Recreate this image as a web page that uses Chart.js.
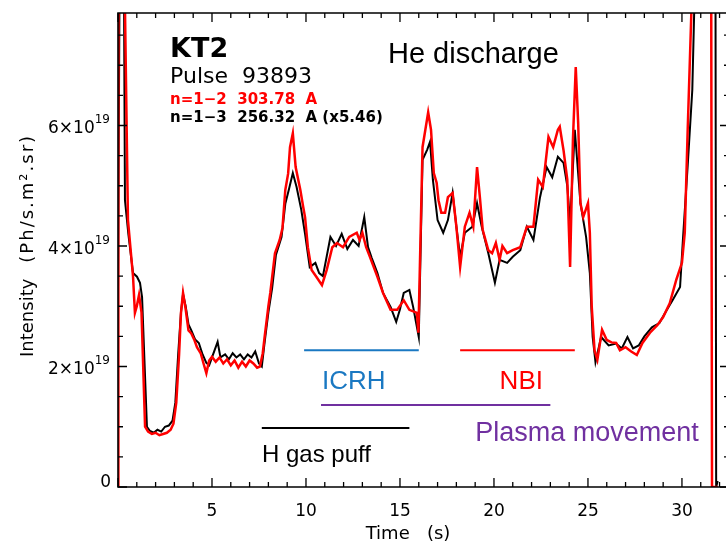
<!DOCTYPE html>
<html>
<head>
<meta charset="utf-8">
<script src="https://cdn.jsdelivr.net/npm/chart.js@4.4.1/dist/chart.umd.min.js"></script>
<style>
  html, body { margin: 0; padding: 0; background: #fff; }
  canvas { display: block; }
</style>
</head>
<body>
<canvas id="kt2" width="726" height="545"></canvas>
<script>
// tempo (s) e intensidade (x1e19 Ph/s.m2.sr)
const redTime = [0, 0.02, 0.3, 0.53, 0.8, 0.9, 1.0, 1.12, 1.25, 1.44, 1.6, 1.8, 2.0, 2.2, 2.4, 2.6, 2.8, 2.95, 3.1, 3.25, 3.35, 3.46,
  3.6, 3.75, 3.9, 4.05, 4.2, 4.4, 4.55, 4.7, 4.85, 5.0, 5.2, 5.4, 5.6, 5.8, 6.0, 6.2, 6.4, 6.6, 6.8, 7.0, 7.2, 7.4, 7.55, 7.7, 7.8,
  8.0, 8.1, 8.35, 8.6, 8.75, 8.9, 9.05, 9.15, 9.3, 9.45, 9.7, 9.85, 9.95, 10.1, 10.3, 10.55, 10.85, 11.1, 11.4, 11.65, 11.97, 12.3,
  12.7, 12.85, 13.0, 13.2, 13.4, 13.8, 14.1, 14.5, 14.85, 15.2, 15.5, 15.9, 15.98, 16.2, 16.35, 16.5, 16.65, 16.8, 16.95, 17.05,
  17.2, 17.4, 17.55, 17.8, 18.0, 18.2, 18.45, 18.7, 18.9, 19.1, 19.25, 19.4, 19.7, 19.9, 20.1, 20.3, 20.45, 20.7, 21.0, 21.4,
  21.75, 22.1, 22.35, 22.6, 22.9, 23.15, 23.4, 23.5, 23.7, 23.9, 24.05, 24.2, 24.35, 24.48, 24.6, 24.75, 25.0, 25.1, 25.2, 25.35,
  25.5, 25.75, 26.0, 26.25, 26.5, 26.7, 27.0, 27.3, 27.6, 27.9, 28.3, 28.7, 29.0, 29.35, 29.7, 30.0, 30.15, 30.3, 30.5, 30.6,
  31.55, 31.6, 31.9];
const redValue = [0, 9.5, 9.5, 4.43, 3.49, 2.89, 3.0, 3.19, 2.9, 1.0, 0.92, 0.88, 0.9, 0.86, 0.88, 0.9, 0.95, 1.05, 1.4, 2.2, 2.89, 3.22,
  2.95, 2.6, 2.55, 2.45, 2.32, 2.22, 2.05, 1.89, 2.1, 2.16, 2.08, 2.15, 2.05, 2.12, 2.02, 2.1, 1.98, 2.08, 2.0, 2.1, 2.05, 1.98, 2.0, 2.22, 2.49,
  3.0, 3.22, 3.88, 4.1, 4.3, 4.93, 5.2, 5.64, 5.87, 5.31, 4.93, 4.65, 4.48, 3.98, 3.6, 3.49, 3.35, 3.6, 3.98, 4.05, 3.98, 4.15,
  4.22, 4.1, 4.22, 3.98, 3.82, 3.49, 3.22, 2.94, 2.94, 3.1, 2.94, 2.89, 2.56, 5.64, 5.93, 6.22, 5.93, 5.21, 5.05, 4.76,
  4.55, 4.55, 4.81, 4.88, 4.32, 3.65, 4.32, 4.55, 4.32, 5.31, 4.81, 4.27, 3.93, 3.88, 4.05, 3.77, 4.0, 3.88, 3.93, 3.98,
  4.32, 4.32, 5.1, 4.98, 5.81, 5.64, 5.93, 5.98, 5.59, 5.1, 3.65, 5.76, 6.97, 6.04, 4.71, 4.48, 4.71, 4.22, 3.0, 2.27,
  2.11, 2.61, 2.44, 2.4, 2.39, 2.27, 2.32, 2.25, 2.19, 2.39, 2.56, 2.69, 2.82, 3.05, 3.44, 3.72, 4.22, 5.87, 7.87, 9.5,
  9.5, 0, 0];

const blackTime = [0, 0.1, 0.3, 0.37, 0.55, 0.8, 1.01, 1.17, 1.28, 1.54, 1.7, 1.9, 2.1, 2.3, 2.5, 2.7, 2.9, 3.05, 3.2, 3.35, 3.46,
  3.6, 3.75, 3.9, 4.1, 4.3, 4.5, 4.7, 4.85, 5.0, 5.3, 5.45, 5.7, 5.9, 6.1, 6.3, 6.5, 6.7, 6.9, 7.1, 7.3, 7.5, 7.65, 7.8,
  8.0, 8.2, 8.4, 8.7, 8.9, 9.1, 9.3, 9.5, 9.75, 9.95, 10.2, 10.5, 10.7, 10.9, 11.3, 11.6, 11.9, 12.2, 12.5, 12.8, 13.1, 13.3,
  13.5, 13.8, 14.1, 14.5, 14.8, 15.0, 15.2, 15.5, 15.7, 16.0, 16.2, 16.45, 16.6, 16.75, 17.0, 17.3, 17.55, 17.8, 18.0, 18.2,
  18.45, 18.85, 19.1, 19.35, 19.7, 20.05, 20.3, 20.7, 21.0, 21.4, 21.75, 22.1, 22.45, 22.8, 23.1, 23.4, 23.7, 23.9, 24.05,
  24.3, 24.6, 24.9, 25.1, 25.25, 25.4, 25.7, 26.1, 26.5, 26.8, 27.1, 27.4, 27.7, 28.0, 28.4, 28.8, 29.2, 29.5, 29.9, 30.05,
  30.3, 30.55, 30.65, 30.75, 31.78, 31.82, 31.9];
const blackValue = [3.2, 9.5, 9.5, 4.76, 4.2, 3.55, 3.49, 3.39, 3.15, 1.0, 0.93, 0.9, 0.95, 0.92, 1.0, 1.02, 1.1, 1.4, 2.2, 2.9, 3.2,
  3.0, 2.7, 2.6, 2.45, 2.39, 2.2, 2.06, 2.02, 2.15, 2.41, 2.15, 2.2, 2.12, 2.22, 2.15, 2.2, 2.12, 2.2, 2.15, 2.25, 2.05, 2.0, 2.4,
  2.9, 3.3, 3.85, 4.15, 4.7, 4.95, 5.21, 4.98, 4.6, 4.2, 3.65, 3.72, 3.55, 3.5, 4.15, 4.0, 4.2, 3.95, 4.1, 4.0, 4.48, 3.98,
  3.8, 3.55, 3.22, 2.99, 2.74, 2.95, 3.22, 3.27, 2.99, 2.49, 5.43, 5.6, 5.73, 5.1, 4.43, 4.22, 4.43, 4.88, 4.32, 3.82,
  4.22, 4.32, 4.71, 4.32, 3.88, 3.39, 3.77, 3.72, 3.82, 3.93, 4.32, 4.1, 4.81, 5.31, 5.14, 5.48, 5.38, 5.0, 4.38,
  5.93, 4.71, 4.15, 3.55, 2.49, 2.07, 2.49, 2.35, 2.38, 2.3, 2.49, 2.3, 2.35, 2.5, 2.65, 2.72, 2.94, 3.1, 3.32, 4.1,
  5.31, 6.59, 7.87, 9.5, 9.5, 0.0, 0.1];

// barras de eventos (início, fim em s; nível x1e19)
const eventLabels = ["ICRH", "NBI", "Plasma movement", "H gas puff"];
const eventStart = [9.9, 18.2, 10.8, 7.65];
const eventEnd = [16.0, 24.3, 23.0, 15.5];
const eventLevel = [2.27, 2.27, 1.36, 0.98];
const eventColors = ["#1a78c2", "#ff0000", "#7030a0", "#000000"];

const yTicks = [0, 2, 4, 6];
const xTicks = [5, 10, 15, 20, 25, 30];

const toPoints = (t, v) => t.map((x, i) => ({ x: x, y: v[i] }));

const datasets = [
  { data: toPoints(redTime, redValue), borderColor: "#ff0000", borderWidth: 2.5 },
  { data: toPoints(blackTime, blackValue), borderColor: "#000000", borderWidth: 2 }
];
eventLabels.forEach((lab, i) => {
  datasets.push({
    data: [{ x: eventStart[i], y: eventLevel[i] }, { x: eventEnd[i], y: eventLevel[i] }],
    borderColor: eventColors[i], borderWidth: 2
  });
});

const tickFont = "17px 'DejaVu Sans'";

// moldura, ticks para dentro, rótulos e textos
const framePlugin = {
  id: "frame",
  afterDraw(chart) {
    const ctx = chart.ctx;
    const a = chart.chartArea;
    const xs = chart.scales.x, ys = chart.scales.y;
    const rightEdge = a.right + 4; // borda direita fica fora da imagem
    ctx.save();
    ctx.strokeStyle = "#000";
    ctx.lineWidth = 1.6;
    ctx.beginPath();
    ctx.moveTo(rightEdge, a.top); ctx.lineTo(a.left, a.top);
    ctx.lineTo(a.left, a.bottom); ctx.lineTo(rightEdge, a.bottom);
    ctx.stroke();

    ctx.lineWidth = 1.3;
    ctx.beginPath();
    for (let t = 0; t <= xs.max; t += 1) {
      const px = xs.getPixelForValue(t);
      const len = t % 5 === 0 ? 9 : 5;
      ctx.moveTo(px, a.bottom); ctx.lineTo(px, a.bottom - len);
      ctx.moveTo(px, a.top); ctx.lineTo(px, a.top + len);
    }
    for (let v = 0; v <= ys.max; v += 0.5) {
      const py = ys.getPixelForValue(v);
      const len = v % 2 === 0 ? 9 : 5;
      ctx.moveTo(a.left, py); ctx.lineTo(a.left + len, py);
      ctx.moveTo(rightEdge, py); ctx.lineTo(rightEdge - len, py);
    }
    ctx.stroke();

    ctx.fillStyle = "#000";
    ctx.font = tickFont;
    ctx.textAlign = "center";
    ctx.textBaseline = "alphabetic";
    xTicks.forEach(t => ctx.fillText(String(t), xs.getPixelForValue(t), 516));

    ctx.textAlign = "right";
    yTicks.forEach(v => {
      const py = ys.getPixelForValue(v);
      if (v === 0) {
        ctx.font = tickFont;
        ctx.fillText("0", 111, py);
        return;
      }
      ctx.font = "12px 'DejaVu Sans'";
      const supW = ctx.measureText("19").width;
      ctx.fillText("19", 110, py - 2);
      ctx.font = tickFont;
      ctx.fillText(v + "\u00d710", 110 - supW, py + 8);
    });

    ctx.font = "18px 'DejaVu Sans'";
    ctx.textAlign = "center";
    ctx.fillText("Time   (s)", 408, 539);

    // título do eixo y, de baixo para cima
    ctx.save();
    ctx.translate(33, 357);
    ctx.rotate(-Math.PI / 2);
    ctx.textAlign = "left";
    ctx.fillText("Intensity", 0, 0);
    const w1 = ctx.measureText("Intensity").width;
    ctx.letterSpacing = "2px";
    ctx.fillText("(Ph/s.m\u00b2.sr)", w1 + 16, 0);
    ctx.restore();

    ctx.textAlign = "left";
    const tx = t => xs.getPixelForValue(t);
    const ty = v => ys.getPixelForValue(v);
    ctx.font = "bold 27px 'DejaVu Sans'";
    ctx.fillText("KT2", tx(2.77), ty(7.13));
    ctx.font = "22px 'DejaVu Sans'";
    ctx.fillText("Pulse  93893", tx(2.77), ty(6.71));
    ctx.font = "bold 15px 'DejaVu Sans'";
    ctx.fillStyle = "#ff0000";
    ctx.fillText("n=1\u22122  303.78  A", tx(2.77), ty(6.35));
    ctx.fillStyle = "#000";
    ctx.fillText("n=1\u22123  256.32  A (x5.46)", tx(2.77), ty(6.06));

    ctx.font = "29px 'Liberation Sans'";
    ctx.fillText("He discharge", tx(14.36), ty(7.04));
    ctx.font = "26px 'Liberation Sans'";
    ctx.fillStyle = eventColors[0];
    ctx.fillText(eventLabels[0], tx(10.85), ty(1.63));
    ctx.fillStyle = eventColors[1];
    ctx.fillText(eventLabels[1], tx(20.3), ty(1.63));
    ctx.font = "27px 'Liberation Sans'";
    ctx.fillStyle = eventColors[2];
    ctx.fillText(eventLabels[2], tx(19.0), ty(0.76));
    ctx.font = "24px 'Liberation Sans'";
    ctx.fillStyle = eventColors[3];
    ctx.fillText(eventLabels[3], tx(7.66), ty(0.41));
    ctx.restore();
  }
};

new Chart(document.getElementById("kt2"), {
  type: "line",
  data: { datasets: datasets },
  options: {
    responsive: false,
    animation: false,
    layout: { padding: { top: 13, right: 1, left: 0, bottom: 0 } },
    elements: { point: { radius: 0 }, line: { tension: 0 } },
    plugins: { legend: { display: false }, tooltip: { enabled: false } },
    scales: {
      x: {
        type: "linear", min: 0, max: 32.29,
        grid: { display: false, drawTicks: false },
        border: { display: false },
        ticks: { display: false },
        afterFit: s => { s.height = 58; }
      },
      y: {
        min: 0, max: 7.867,
        grid: { display: false, drawTicks: false },
        border: { display: false },
        ticks: { display: false },
        afterFit: s => { s.width = 118; }
      }
    }
  },
  plugins: [framePlugin]
});
</script>
</body>
</html>
